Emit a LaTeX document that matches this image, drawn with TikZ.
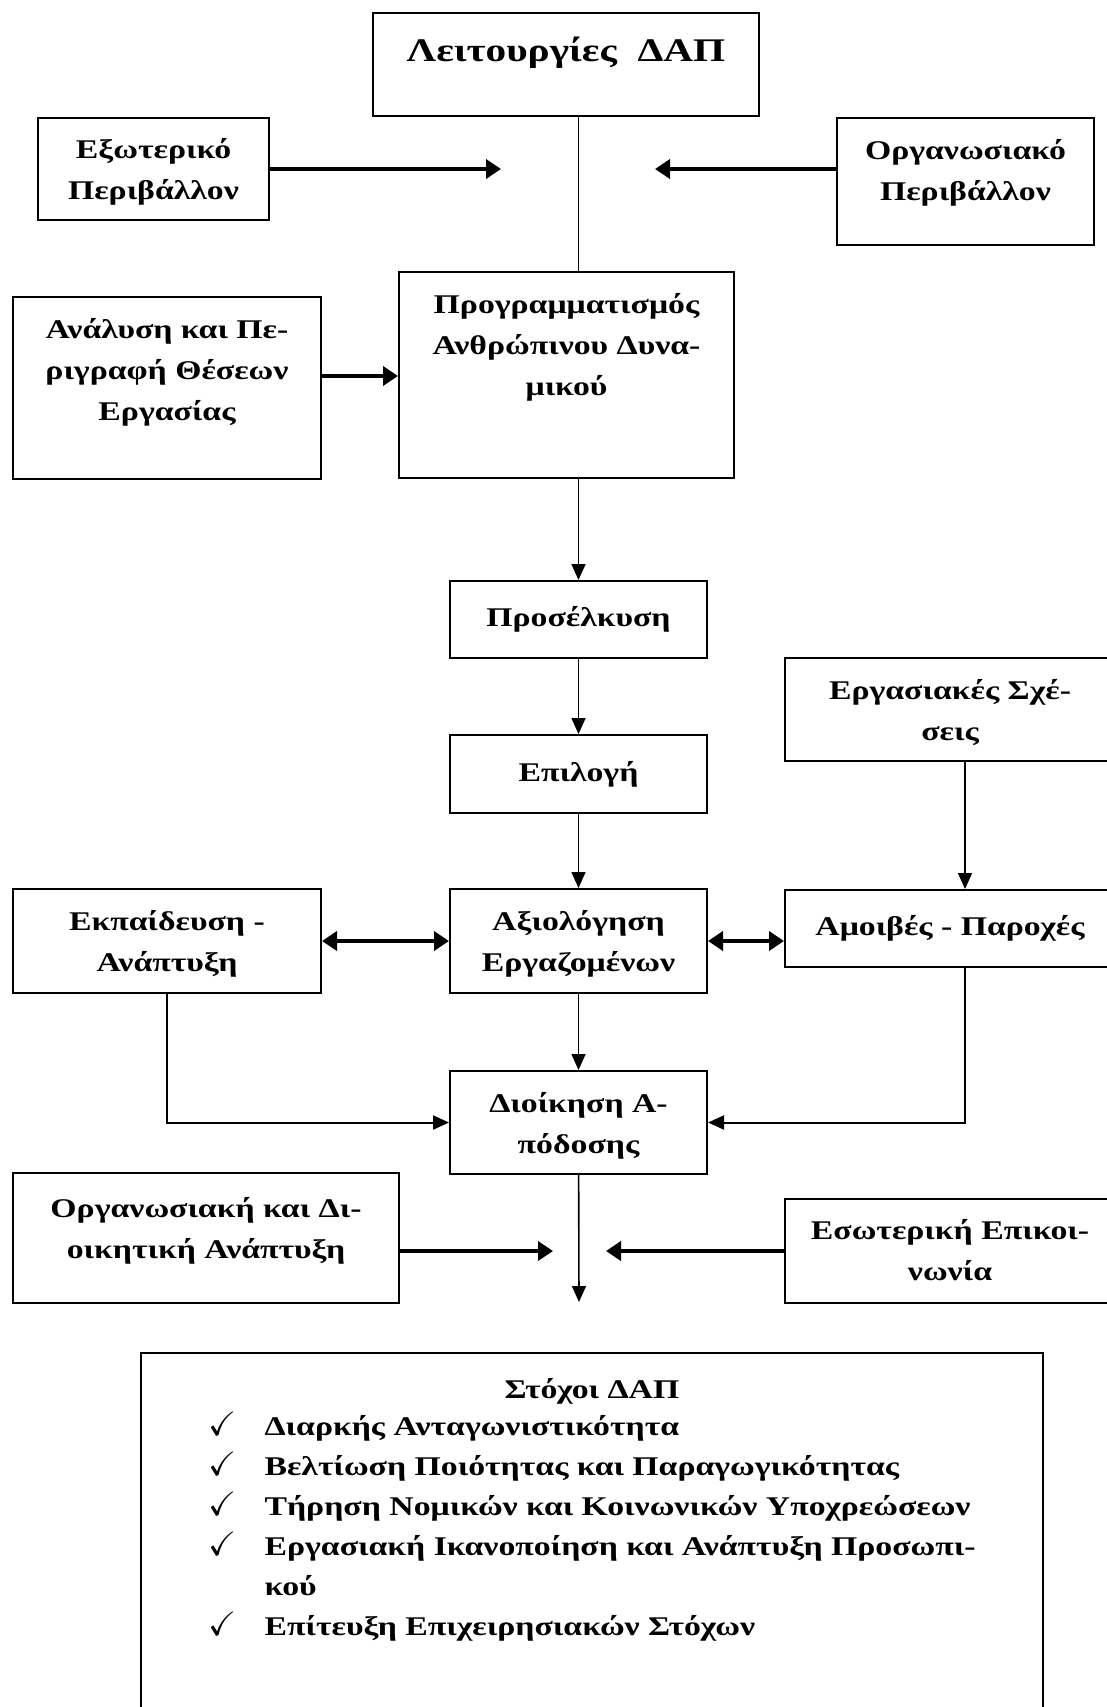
\documentclass[tikz,border=0pt]{standalone}
\usepackage{fontspec}
\usepackage{amssymb}
\usepackage{graphicx}
\setmainfont{Liberation Serif}[FakeStretch=1.25]
\usetikzlibrary{arrows.meta}

\begin{document}
\begin{tikzpicture}[x=0.5pt, y=-0.5pt,
  every node/.style={font=\fontsize{13.5}{20.5}\selectfont\bfseries},
  box/.style={draw, line width=1pt, align=center, inner sep=0pt},
  thinarrow/.style={line width=0.8pt, -{Triangle[length=8pt,width=7pt]}},
  thickarrow/.style={line width=2.2pt, -{Triangle[length=7.5pt,width=9.5pt]}},
  twoway/.style={line width=2.2pt, {Triangle[length=7.5pt,width=9.5pt]}-{Triangle[length=7.5pt,width=9.5pt]}}]

\useasboundingbox (0,0) rectangle (1107,1707);

\node[box, minimum width=193pt, minimum height=51.5pt, text depth=15pt,
  font=\fontsize{16.5}{20}\selectfont\bfseries] (funcs) at (566,64.5)
{Λειτουργίες\ \ ΔΑΠ};
\node[box, minimum width=115.5pt, minimum height=51pt, text depth=0pt] (extenv) at (153.5,169)
{Εξωτερικό\\Περιβάλλον};
\node[box, minimum width=128.5pt, minimum height=63.5pt, text depth=12pt] (orgenv) at (965.5,181.5)
{Οργανωσιακό\\Περιβάλλον};
\node[box, minimum width=167.5pt, minimum height=103pt, text depth=30.5pt] (planning) at (566.5,375)
{Προγραμματισμός\\Ανθρώπινου Δυνα-\\μικού};
\node[box, minimum width=154pt, minimum height=91pt, text depth=19pt] (analysis) at (167,388)
{Ανάλυση και Πε-\\ριγραφή Θέσεων\\Εργασίας};
\node[box, minimum width=128.5pt, minimum height=38.5pt] (recruit) at (578.5,619.5)
{Προσέλκυση};
\node[box, minimum width=128.5pt, minimum height=39pt] (select) at (578.5,774)
{Επιλογή};
\node[box, minimum width=165pt, minimum height=51.5pt, text depth=0pt] (relations) at (950,709.5)
{Εργασιακές Σχέ-\\σεις};
\node[box, minimum width=128.5pt, minimum height=52pt, text depth=0pt] (appraisal) at (578.5,941)
{Αξιολόγηση\\Εργαζομένων};
\node[box, minimum width=154pt, minimum height=52pt, text depth=0pt] (training) at (167,941)
{Εκπαίδευση -\\Ανάπτυξη};
\node[box, minimum width=165pt, minimum height=38.5pt] (rewards) at (950,928.5)
{Αμοιβές - Παροχές};
\node[box, minimum width=128.5pt, minimum height=51.5pt, text depth=0pt] (perfmgmt) at (578.5,1122.5)
{Διοίκηση Α-\\πόδοσης};
\node[box, minimum width=193pt, minimum height=65pt, text depth=10pt] (orgdev) at (206,1238)
{Οργανωσιακή και Δι-\\οικητική Ανάπτυξη};
\node[box, minimum width=165pt, minimum height=52pt, text depth=1pt] (intcomm) at (950,1251)
{Εσωτερική Επικοι-\\νωνία};
\node[box, minimum width=451pt, minimum height=183.5pt, text depth=33.5pt,
  font=\fontsize{13.5}{20}\selectfont\bfseries] (goals) at (592,1536.5)
{\begin{tabular}[b]{@{}r@{\hspace{14pt}}l@{}}
\multicolumn{2}{c}{Στόχοι ΔΑΠ}\\[-1.5pt]
\makebox[12pt][r]{\scalebox{1.25}{$\checkmark$}} & Διαρκής Ανταγωνιστικότητα\\
\scalebox{1.25}{$\checkmark$} & Βελτίωση Ποιότητας και Παραγωγικότητας\\
\scalebox{1.25}{$\checkmark$} & Τήρηση Νομικών και Κοινωνικών Υποχρεώσεων\\
\scalebox{1.25}{$\checkmark$} & Εργασιακή Ικανοποίηση και Ανάπτυξη Προσωπι-\\
 & κού\\
\scalebox{1.25}{$\checkmark$} & Επίτευξη Επιχειρησιακών Στόχων
\end{tabular}};

\coordinate (extin) at (501,169);
\coordinate (orgin) at (655,169);
\coordinate (devin) at (553,1251);
\coordinate (commin) at (606,1251);
\coordinate (goalsin) at (579,1302);

\draw[line width=0.8pt] (funcs.south -| recruit.north) -- (planning.north -| recruit.north);
\draw[thickarrow] (extenv.east) -- (extin);
\draw[thickarrow] (orgenv.west |- extin) -- (orgin);
\draw[thickarrow] (analysis.east |- 0,376) -- (planning.west |- 0,376);
\draw[thinarrow] (planning.south -| recruit.north) -- (recruit.north);
\draw[thinarrow] (recruit) -- (select);
\draw[thinarrow] (select) -- (appraisal);
\draw[thinarrow] (relations.south -| 965,0) -- (rewards.north -| 965,0);
\draw[twoway] (training.east) -- (appraisal.west);
\draw[twoway] (appraisal.east) -- (rewards.west |- appraisal.east);
\draw[thinarrow] (appraisal) -- (perfmgmt);
\draw[thinarrow, line width=1pt] (training.south) |- (perfmgmt.west);
\draw[thinarrow, line width=1pt] (rewards.south -| 965,0) |- (perfmgmt.east);
\draw[thinarrow] (perfmgmt) -- (goalsin);
\draw[thickarrow] (orgdev.east |- devin) -- (devin);
\draw[thickarrow] (intcomm.west) -- (commin);
\end{tikzpicture}
\end{document}
